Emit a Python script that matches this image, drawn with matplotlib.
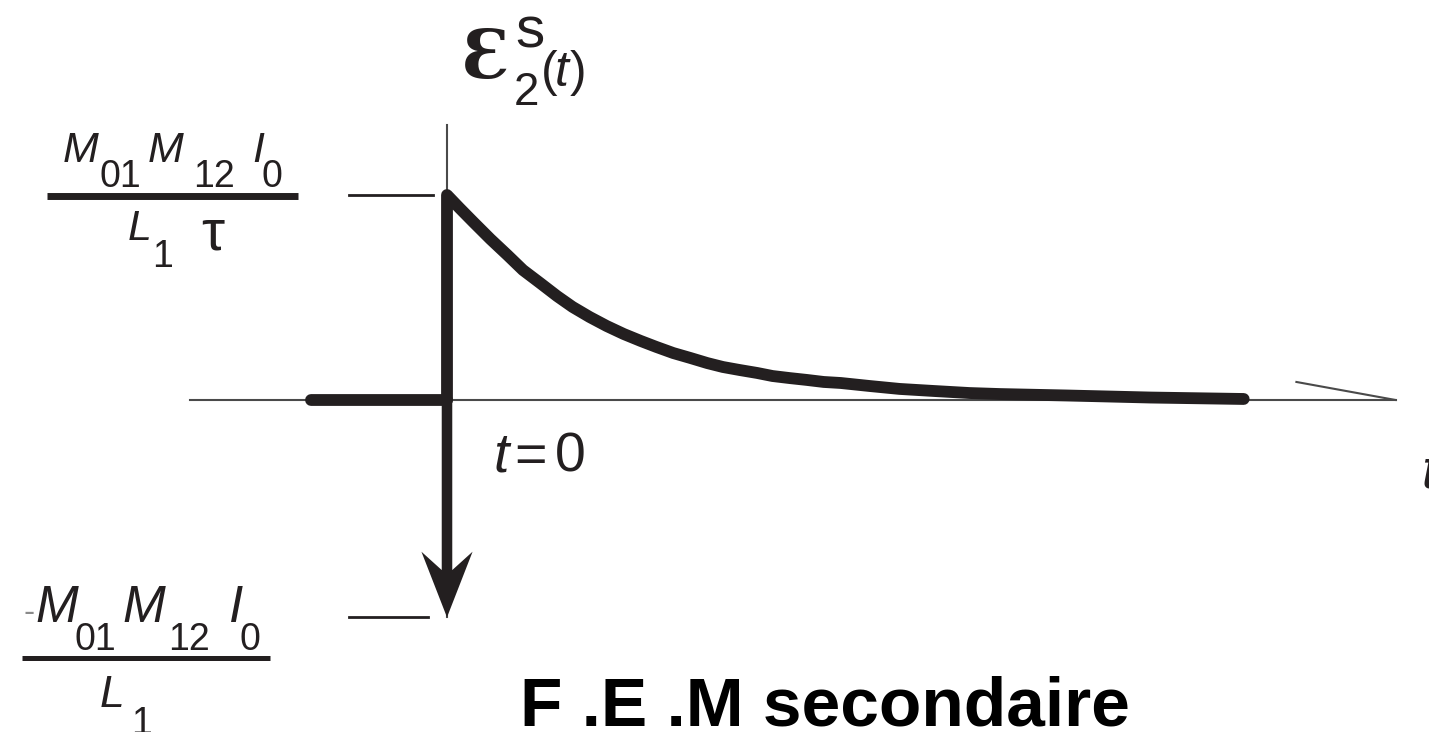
import matplotlib
matplotlib.use("Agg")
import matplotlib.pyplot as plt
import matplotlib.transforms as mtransforms

W, H = 1429, 732
INK = "#231f20"
AXIS = "#4a4a4a"

# secondary EMF after the primary current is cut at t = 0 (t in units of tau,
# emf in units of M01*M12*I0 / (L1*tau))
t_decay = [0, 0.08, 0.17, 0.28, 0.39, 0.49, 0.60, 0.71, 0.81, 0.92, 1.03,
           1.14, 1.25, 1.35, 1.46, 1.57, 1.68, 1.78, 1.89, 2.0, 2.10, 2.21,
           2.32, 2.43, 2.54, 2.73, 2.92, 3.14, 3.37, 3.57, 4.0, 4.54, 5.14]
e_decay = [1.0, 0.937, 0.868, 0.785, 0.707, 0.634, 0.571, 0.507, 0.454,
           0.405, 0.361, 0.322, 0.288, 0.259, 0.229, 0.205, 0.180, 0.161,
           0.146, 0.132, 0.117, 0.107, 0.098, 0.088, 0.083, 0.068, 0.054,
           0.044, 0.034, 0.029, 0.022, 0.012, 0.005]
t_before = [-0.88, 0]
e_before = [0, 0]
e_peak = 1.0
e_jump = -1.06
t_axis = [-1.66, 6.12]

fig = plt.figure(figsize=(W / 100, H / 100), dpi=100)
ax = fig.add_axes([0, 0, 1, 1])
ax.set_xlim(-447 / 155, (W - 447) / 155)
ax.set_ylim((400 - H) / 205, 400 / 205)
ax.axis("off")

# thin axes
ax.plot(t_axis, [0, 0], color=AXIS, lw=1.5, zorder=1)
ax.plot([0, 0], [1.34, e_jump], color=AXIS, lw=1.5, zorder=1)
ax.plot([5.48, t_axis[1]], [0.088, 0], color=AXIS, lw=1.5, zorder=1)

# level marks
ax.plot([-0.63, -0.09], [e_peak, e_peak], color=INK, lw=2.0)
ax.plot([-0.63, -0.12], [e_jump, e_jump], color=INK, lw=2.0)

# the signal itself
ax.plot(t_before, e_before, color=INK, lw=8.5, solid_capstyle="round", zorder=3)
ax.plot([0] + t_decay, [0] + e_decay, color=INK, lw=8.5,
        solid_joinstyle="round", solid_capstyle="round", zorder=3)
ax.arrow(0, 0, 0, e_jump, width=0.068, head_width=0.33, head_length=0.32,
         overhang=0.28, length_includes_head=True, color=INK, lw=0, zorder=3)

# labels placed in pixel units from the top-left corner
px = mtransforms.Affine2D().scale(1 / W, -1 / H).translate(0, 1) + fig.transFigure
SANS = ["Liberation Sans", "DejaVu Sans"]


def put(s, x, y, size, italic=False, family=SANS, **kw):
    ax.text(x, y, s, transform=px, fontsize=size, family=family,
            fontstyle="italic" if italic else "normal", va="baseline",
            ha="left", color=kw.pop("color", INK), **kw)


# M01 M12 I0 / (L1 tau)
put("M", 63, 162, 31, True)
put("01", 100, 187, 27)
put("M", 148, 162, 31, True)
put("12", 193, 187, 27)
put("I", 252, 162, 31, True)
put("0", 262, 187, 27)
ax.plot([47, 298], [196, 196], transform=px, color=INK, lw=5, solid_capstyle="butt")
put("L", 128, 240, 31, True)
put("1", 152, 267, 27)
put("\u03c4", 201, 250, 42)

# -M01 M12 I0 / L1
put("-", 24, 622, 24, color="#8a8a8a")
put("M", 35, 622, 37, True)
put("01", 75, 650, 27)
put("M", 122, 622, 37, True)
put("12", 168, 650, 27)
put("I", 229, 622, 37, True)
put("0", 240, 650, 27)
ax.plot([22, 270], [658, 658], transform=px, color=INK, lw=3.6, solid_capstyle="butt")
put("L", 100, 707, 32, True)
put("1", 131, 734, 27)

# axis names
put("\u0190", 462, 78, 48, family=["DejaVu Serif", "Liberation Serif"],
    fontweight="bold")
put("s", 515, 47, 42)
put("2", 514, 105, 33)
put("(", 541, 86, 36)
put("t", 555, 86, 36, True)
put(")", 570, 86, 36)
put("t", 493, 472, 40, True)
put("=", 514, 472, 40)
put("0", 555, 472, 40)
put("t", 1421, 487, 40, True)

put("F .E .M secondaire", 520, 725, 50, color="black", fontweight="bold")

fig.savefig("out.png", dpi=100)
